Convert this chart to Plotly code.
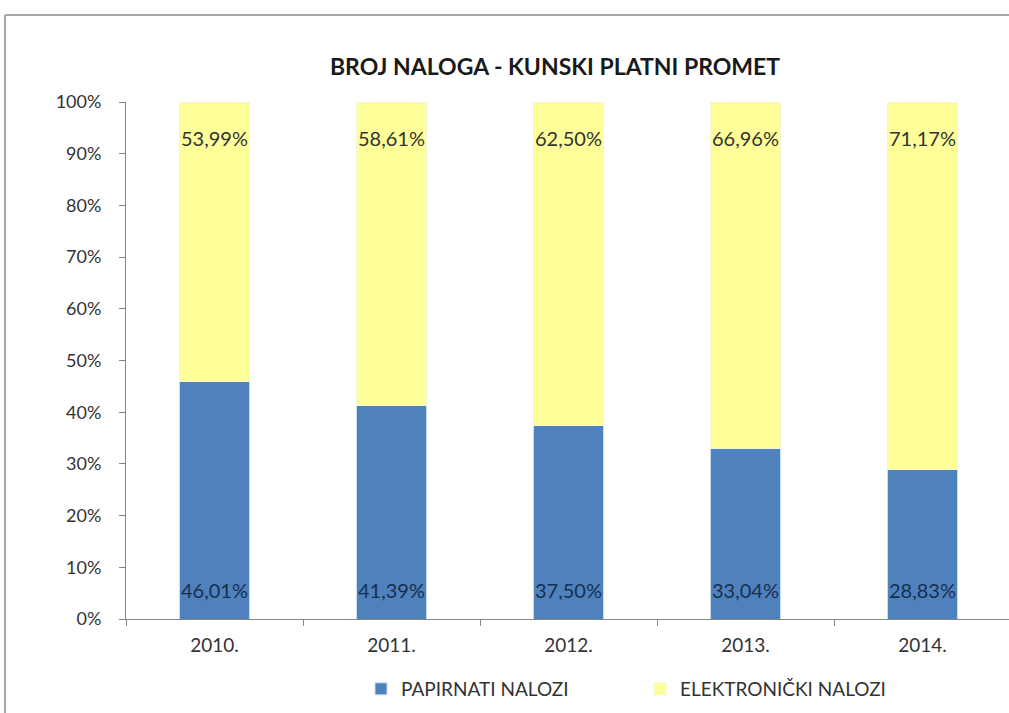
import plotly.graph_objects as go

years = ["2010.", "2011.", "2012.", "2013.", "2014."]
papirnati = [46.01, 41.39, 37.50, 33.04, 28.83]
elektronicki = [53.99, 58.61, 62.50, 66.96, 71.17]

def fmt(v):
    return f"{v:.2f}%".replace(".", ",")

FONT = "Lato"

fig = go.Figure()
fig.add_trace(go.Bar(
    x=years, y=papirnati, name="PAPIRNATI NALOZI",
    marker=dict(color="#4F81BD", line=dict(color="#C9DDF0", width=1)),
    hoverinfo="skip",
))
fig.add_trace(go.Bar(
    x=years, y=elektronicki, name="ELEKTRONIČKI NALOZI",
    marker=dict(color="#FFFF99", line=dict(color="#F4F4D8", width=1)),
    hoverinfo="skip",
))

# data labels: blue near the base of each bar, yellow near the top of the stack
# (category index used for x, since "2010." etc. look numeric to annotations)
annotations = []
for i, (p, e) in enumerate(zip(papirnati, elektronicki)):
    annotations.append(dict(x=i, y=0, xref="x", yref="y", text=fmt(p),
                            showarrow=False, yanchor="middle", yshift=29,
                            font=dict(family=FONT, size=20, color="#17304F")))
    annotations.append(dict(x=i, y=p + e, xref="x", yref="y", text=fmt(e),
                            showarrow=False, yanchor="middle", yshift=-36,
                            font=dict(family=FONT, size=20, color="#333333")))

W, H = 1009, 713
L, T, B = 126, 102, 94
PW = W - L
ph = H - T - B
STEP = 177

def px_x(x):
    return (x - L) / PW

def px_y(y):
    return (H - B - y) / ph

fig.update_layout(
    width=W, height=H,
    margin=dict(l=L, r=0, t=T, b=B),
    paper_bgcolor="white", plot_bgcolor="white",
    barmode="stack", bargap=0.605,
    font=dict(family=FONT, size=18, color="#404040"),
    title=dict(text="<b>BROJ NALOGA - KUNSKI PLATNI PROMET</b>",
               x=px_x(555), xanchor="center", xref="paper",
               y=1 - 67 / H, yanchor="middle",
               font=dict(family=FONT, size=23, color="#1a1a1a")),
    xaxis=dict(type="category", range=[-0.5, PW / STEP - 0.5], showgrid=False,
               showline=True, linecolor="#868686", linewidth=1,
               ticks="outside", tickson="boundaries", ticklen=6, tickcolor="#868686",
               ticklabelstandoff=9,
               tickfont=dict(family=FONT, size=19, color="#333333")),
    yaxis=dict(range=[0, 100], dtick=10, ticksuffix="%", showgrid=False,
               showline=True, linecolor="#868686", linewidth=1,
               ticks="outside", ticklen=6, tickcolor="#868686",
               ticklabelstandoff=14,
               tickfont=dict(family=FONT, size=18, color="#333333"), zeroline=False),
    legend=dict(orientation="h", x=px_x(361), xanchor="left",
                y=px_y(689), yanchor="middle",
                entrywidth=234, entrywidthmode="pixels",
                font=dict(family=FONT, size=19, color="#333333"),
                traceorder="normal"),
    annotations=annotations,
    shapes=[
        dict(type="line", xref="paper", yref="paper",
             x0=px_x(5), x1=1.0, y0=px_y(15), y1=px_y(15),
             line=dict(color="#A6A6A6", width=2)),
        dict(type="line", xref="paper", yref="paper",
             x0=px_x(5), x1=px_x(5), y0=px_y(15), y1=px_y(713),
             line=dict(color="#A6A6A6", width=2)),
    ],
)

fig.write_html("out.html", config={"displayModeBar": False})
